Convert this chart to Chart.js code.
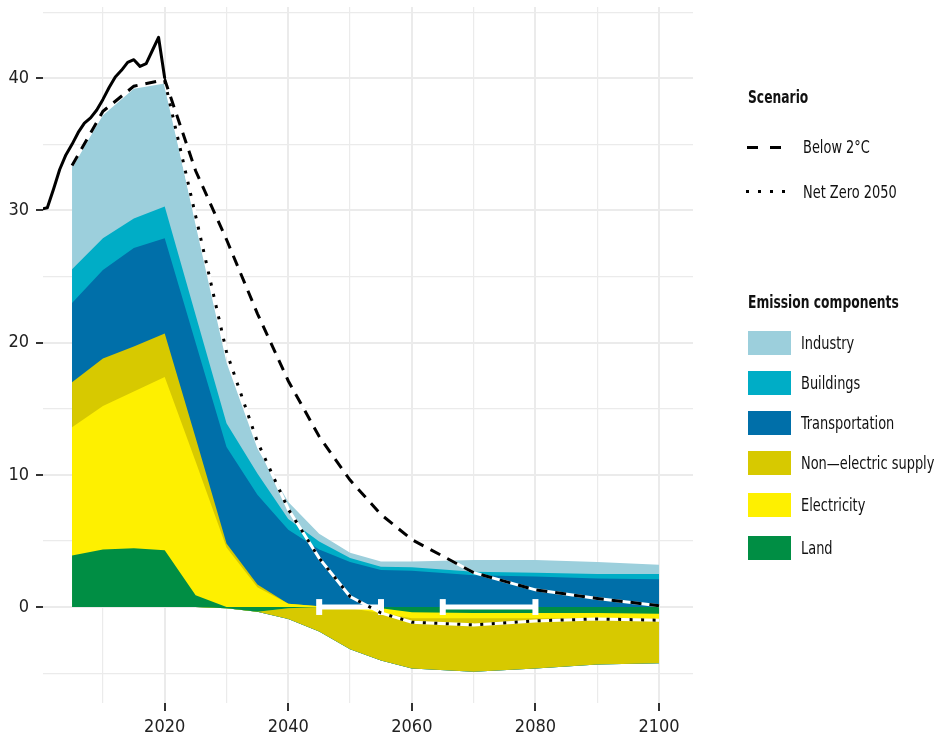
<!DOCTYPE html>
<html>
<head>
<meta charset="utf-8">
<title>Emission components</title>
<script src="https://cdn.jsdelivr.net/npm/chart.js@4.4.1/dist/chart.umd.min.js"></script>
<style>
    html, body { margin: 0; padding: 0; background: #fff; }
    #wrap {
        position: relative; width: 939px; height: 744px; overflow: hidden;
        font-family: "DejaVu Sans Condensed", "DejaVu Sans", sans-serif;
        color: #111;
    }
    #chart { position: absolute; left: 0; top: 0; }
    .lg { position: absolute; white-space: nowrap; font-size: 18px; line-height: 20px; }
    .lg span { display: inline-block; transform: scaleX(0.8); transform-origin: 0 50%; }
    .lg.title { font-weight: bold; }
    .lg.title span { transform: scaleX(0.76); }
    .sw { position: absolute; left: 748px; width: 43px; height: 24px; }
    .k { position: absolute; background: #000; }
</style>
</head>
<body>
<div id="wrap">
    <canvas id="chart" width="939" height="744"></canvas>
    <div id="legend"></div>
</div>
<script>
(function () {
    "use strict";

    // Stacked components (Gt CO2 per year)
    var years = [2005, 2010, 2015, 2020, 2025, 2030, 2035, 2040, 2045, 2050, 2055, 2060, 2070, 2080, 2090, 2100];
    var land           = [3.9, 4.35, 4.45, 4.3, 0.9, -0.1, -0.35, -0.1, 0, 0, -0.1, -0.4, -0.45, -0.45, -0.45, -0.5];
    var electricity    = [9.7, 10.85, 11.85, 13.1, 10.1, 4.5, 1.5, 0.25, 0.05, -0.1, -0.35, -0.45, -0.4, -0.4, -0.4, -0.4];
    var nonElectric    = [3.4, 3.6, 3.4, 3.3, 1.8, 0.3, 0.2, -0.8, -1.85, -3.1, -3.6, -3.8, -4.05, -3.8, -3.5, -3.35];
    var transportation = [6.0, 6.7, 7.45, 7.2, 7.2, 7.3, 6.8, 5.6, 4.3, 3.4, 2.8, 2.75, 2.4, 2.3, 2.15, 2.1];
    var buildings      = [2.55, 2.4, 2.25, 2.4, 2.1, 1.8, 1.6, 0.8, 0.6, 0.3, 0.25, 0.25, 0.27, 0.3, 0.35, 0.4];
    var industry       = [7.8, 9.3, 9.8, 9.3, 6.8, 4.6, 1.9, 1.3, 0.6, 0.4, 0.4, 0.45, 0.88, 0.95, 0.9, 0.7];

    // Historical emissions
    var histYears = [2000, 2001, 2002, 2003, 2004, 2005, 2006, 2007, 2008, 2009, 2010,
                     2011, 2012, 2013, 2014, 2015, 2016, 2017, 2018, 2019, 2020];
    var histValues = [30.1, 30.2, 31.6, 33.1, 34.2, 35.0, 35.9, 36.6, 37.0, 37.6, 38.4,
                      39.3, 40.1, 40.6, 41.2, 41.4, 40.9, 41.1, 42.1, 43.1, 40.0];

    // Scenarios
    var below2Years = [2005, 2010, 2015, 2020, 2025, 2030, 2035, 2040, 2045, 2050, 2055, 2060, 2070, 2080, 2090, 2100];
    var below2 = [33.4, 37.5, 39.4, 39.9, 33.0, 27.8, 22.2, 17.1, 12.9, 9.6, 7.0, 5.1, 2.6, 1.3, 0.65, 0.1];
    var netZeroYears = [2020, 2025, 2030, 2035, 2040, 2045, 2050, 2055, 2060, 2070, 2080, 2090, 2100];
    var netZero = [39.8, 29.6, 19.3, 12.5, 7.4, 3.7, 0.8, -0.45, -1.15, -1.35, -1.05, -0.9, -1.0];

    // Net zero year ranges
    var rangeStart = [2045, 2065];
    var rangeEnd = [2055, 2080];

    // Labelled ticks
    var xLabels = [2020, 2040, 2060, 2080, 2100];
    var yLabels = [0, 10, 20, 30, 40];

    var componentNames = ["Land", "Electricity", "Non\u2014electric supply", "Transportation", "Buildings", "Industry"];
    var componentColors = ["#008e44", "#fef000", "#d7c900", "#006fa9", "#00adc6", "#9ccfdc"];
    var FONT = "'DejaVu Sans Condensed', 'DejaVu Sans', sans-serif";

    function toPoints(xs, ys) {
        return xs.map(function (x, i) { return {x: x, y: ys[i]}; });
    }

    // Areas: cumulative positive and negative stacks, each filled to zero,
    // drawn from the outside in so there are no seams
    var datasets = [];
    var stack = [land, electricity, nonElectric, transportation, buildings, industry];
    var pos = years.map(function () { return 0; });
    var neg = years.map(function () { return 0; });
    var posSets = [], negSets = [];
    stack.forEach(function (vals, k) {
        pos = pos.map(function (s, i) { return s + Math.max(vals[i], 0); });
        neg = neg.map(function (s, i) { return s + Math.min(vals[i], 0); });
        posSets.push({data: toPoints(years, pos), fill: "origin", backgroundColor: componentColors[k],
            borderColor: "rgba(0,0,0,0)", borderWidth: 0, pointRadius: 0, order: 10});
        negSets.push({data: toPoints(years, neg), fill: "origin", backgroundColor: componentColors[k],
            borderColor: "rgba(0,0,0,0)", borderWidth: 0, pointRadius: 0, order: 10});
    });
    datasets = datasets.concat(posSets, negSets);

    // Net zero ranges (white error bars)
    rangeStart.forEach(function (s, i) {
        var e = rangeEnd[i];
        datasets.push({data: [{x: s, y: 0}, {x: e, y: 0}], borderColor: "#fff", borderWidth: 5, pointRadius: 0, fill: false, order: 3});
        datasets.push({data: [{x: s, y: -0.6}, {x: s, y: 0.6}], borderColor: "#fff", borderWidth: 6, pointRadius: 0, fill: false, order: 3});
        datasets.push({data: [{x: e, y: -0.6}, {x: e, y: 0.6}], borderColor: "#fff", borderWidth: 6, pointRadius: 0, fill: false, order: 3});
    });

    // Scenario lines with white underlay
    datasets.push({data: toPoints(below2Years, below2), borderColor: "#fff", borderWidth: 3, pointRadius: 0, fill: false, order: 2});
    datasets.push({data: toPoints(netZeroYears, netZero), borderColor: "#fff", borderWidth: 3, pointRadius: 0, fill: false, order: 2});
    datasets.push({data: toPoints(below2Years, below2), borderColor: "#000", borderWidth: 3, borderDash: [11, 8],
        borderCapStyle: "butt", pointRadius: 0, fill: false, order: 1});
    datasets.push({data: toPoints(netZeroYears, netZero), borderColor: "#000", borderWidth: 3, borderDash: [3, 8.5],
        borderCapStyle: "butt", pointRadius: 0, fill: false, order: 1});

    // Historical
    datasets.push({data: toPoints(histYears, histValues), borderColor: "#000", borderWidth: 3,
        borderJoinStyle: "round", pointRadius: 0, fill: false, order: 0});

    function noPad(s) {
        s.paddingTop = 0; s.paddingBottom = 0; s.paddingLeft = 0; s.paddingRight = 0;
    }

    new Chart(document.getElementById("chart").getContext("2d"), {
        type: "line",
        data: {datasets: datasets},
        options: {
            responsive: false,
            animation: false,
            layout: {padding: {top: 7, right: 246, left: 0, bottom: 0}},
            elements: {line: {tension: 0}},
            plugins: {legend: {display: false}, tooltip: {enabled: false}},
            scales: {
                x: {
                    type: "linear",
                    min: 2000.3,
                    max: 2105.5,
                    afterFit: function (s) { s.height = 41; noPad(s); },
                    border: {display: false},
                    grid: {
                        color: "#ebebeb",
                        lineWidth: function (c) { return c.tick && xLabels.indexOf(c.tick.value) >= 0 ? 2 : 1.2; },
                        tickColor: function (c) { return c.tick && xLabels.indexOf(c.tick.value) >= 0 ? "#333" : "rgba(0,0,0,0)"; },
                        tickWidth: 2,
                        tickLength: 8
                    },
                    ticks: {
                        stepSize: 10,
                        includeBounds: false,
                        autoSkip: false,
                        maxRotation: 0,
                        padding: 6,
                        color: "#222",
                        font: {family: FONT, size: 18},
                        callback: function (v) { return xLabels.indexOf(v) >= 0 ? String(v) : ""; }
                    }
                },
                y: {
                    min: -7.26,
                    max: 45.39,
                    afterFit: function (s) { s.width = 43; noPad(s); },
                    border: {display: false},
                    grid: {
                        color: "#ebebeb",
                        lineWidth: function (c) { return c.tick && yLabels.indexOf(c.tick.value) >= 0 ? 2 : 1.2; },
                        tickColor: function (c) { return c.tick && yLabels.indexOf(c.tick.value) >= 0 ? "#333" : "rgba(0,0,0,0)"; },
                        tickWidth: 2,
                        tickLength: 7
                    },
                    ticks: {
                        stepSize: 5,
                        includeBounds: false,
                        padding: 7,
                        color: "#222",
                        font: {family: FONT, size: 18},
                        callback: function (v) { return yLabels.indexOf(v) >= 0 ? String(v) : ""; }
                    }
                }
            }
        }
    });

    // Legend
    var lg = document.getElementById("legend");
    function add(cls, text, left, top) {
        var d = document.createElement("div");
        var s = document.createElement("span");
        d.className = cls;
        s.textContent = text;
        d.appendChild(s);
        d.style.left = left + "px";
        d.style.top = top + "px";
        lg.appendChild(d);
    }
    function key(left, top, w, h) {
        var d = document.createElement("div");
        d.className = "k";
        d.style.left = left + "px"; d.style.top = top + "px";
        d.style.width = w + "px"; d.style.height = h + "px";
        lg.appendChild(d);
    }

    add("lg title", "Scenario", 748, 87);
    key(747, 146, 11, 3); key(770, 146, 11, 3);
    add("lg", "Below 2\u00b0C", 803, 137);
    [746, 758, 770, 782].forEach(function (x) { key(x, 190, 3, 3); });
    add("lg", "Net Zero 2050", 803, 182);

    add("lg title", "Emission components", 748, 292);
    var legendTops = [331, 371, 411, 451, 493, 536];
    var legendOrder = [5, 4, 3, 2, 1, 0];
    legendOrder.forEach(function (k, i) {
        var sw = document.createElement("div");
        sw.className = "sw";
        sw.style.top = legendTops[i] + "px";
        sw.style.background = componentColors[k];
        lg.appendChild(sw);
        add("lg", componentNames[k], 801, legendTops[i] + 2);
    });
})();
</script>
</body>
</html>
